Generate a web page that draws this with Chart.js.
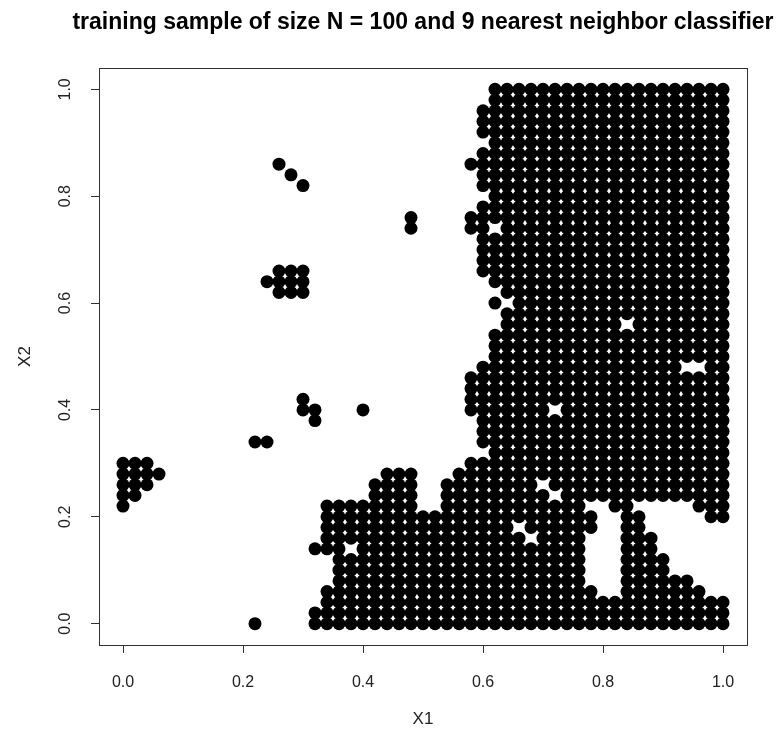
<!DOCTYPE html>
<html>
<head>
<meta charset="utf-8">
<script src="https://cdn.jsdelivr.net/npm/chart.js@4"></script>
<style>
  html, body { margin: 0; padding: 0; background: #fff; }
</style>
</head>
<body>
<canvas id="knn" width="784" height="740"></canvas>
<script>
const plotTitle = "training sample of size N = 100 and 9 nearest neighbor classifier";
const xAxisLabel = "X1";
const yAxisLabel = "X2";
const tickValues = [0, 0.2, 0.4, 0.6, 0.8, 1.0];
const tickLabels = ["0.0", "0.2", "0.4", "0.6", "0.8", "1.0"];
const gridStep = 0.02;

// grid cells predicted as class 1, one entry per grid row,
// first entry is X2 = 1.00, last is X2 = 0.00.
// each pair is [first, last] column index (X1 = index * 0.02)
const classOneRows = [
  [[31, 50]],                                   // 1.00
  [[31, 50]],
  [[30, 50]],
  [[30, 50]],
  [[30, 50]],
  [[31, 50]],                                   // 0.90
  [[30, 50]],
  [[13, 13], [29, 50]],
  [[14, 14], [30, 50]],
  [[15, 15], [30, 50]],
  [[31, 50]],                                   // 0.80
  [[30, 50]],
  [[24, 24], [29, 50]],
  [[24, 24], [29, 30], [32, 50]],
  [[30, 50]],
  [[30, 50]],                                   // 0.70
  [[30, 50]],
  [[13, 15], [30, 50]],
  [[12, 15], [31, 50]],
  [[13, 15], [32, 50]],
  [[31, 31], [33, 50]],                         // 0.60
  [[32, 50]],
  [[32, 41], [43, 50]],
  [[31, 50]],
  [[31, 50]],
  [[31, 50]],                                   // 0.50
  [[30, 46], [49, 50]],
  [[29, 50]],
  [[29, 50]],
  [[15, 15], [29, 50]],
  [[15, 16], [20, 20], [29, 35], [37, 50]],     // 0.40
  [[16, 16], [30, 50]],
  [[30, 50]],
  [[11, 12], [30, 50]],
  [[31, 50]],
  [[0, 2], [29, 50]],                           // 0.30
  [[0, 3], [22, 24], [28, 50]],
  [[0, 2], [21, 24], [27, 34], [36, 50]],
  [[0, 1], [21, 24], [27, 35], [37, 50]],
  [[0, 0], [17, 24], [27, 38], [41, 42], [48, 50]],
  [[17, 39], [42, 43], [49, 50]],               // 0.20
  [[17, 32], [34, 39], [42, 43]],
  [[17, 33], [35, 38], [42, 44]],
  [[16, 18], [20, 38], [42, 44]],
  [[18, 38], [42, 45]],
  [[18, 38], [42, 45]],                         // 0.10
  [[18, 38], [42, 47]],
  [[17, 39], [42, 48]],
  [[17, 50]],
  [[16, 50]],
  [[11, 11], [16, 50]]                          // 0.00
];

const points = [];
classOneRows.forEach((runs, k) => {
  const row = classOneRows.length - 1 - k;
  runs.forEach(([first, last]) => {
    for (let col = first; col <= last; col++) {
      points.push({ x: +(col * gridStep).toFixed(2), y: +(row * gridStep).toFixed(2) });
    }
  });
});

const FONT = '"Liberation Sans", Arial, Helvetica, sans-serif';
const INK = "#000";

// box around the plot region, title and the rotated y tick labels (R style)
const rFrame = {
  id: "rFrame",
  afterDraw(chart) {
    const { ctx, chartArea: a, scales } = chart;
    ctx.save();
    ctx.strokeStyle = "#333";
    ctx.lineWidth = 1;
    ctx.strokeRect(Math.round(a.left) + 0.5, Math.round(a.top) + 0.5,
                   Math.round(a.right - a.left), Math.round(a.bottom - a.top));

    ctx.fillStyle = INK;
    ctx.font = "bold 23px " + FONT;
    ctx.textAlign = "center";
    ctx.textBaseline = "middle";
    ctx.fillText(plotTitle, (a.left + a.right) / 2, 23);

    ctx.font = "16px " + FONT;
    ctx.fillStyle = "#222";
    tickValues.forEach((v, i) => {
      const py = scales.y.getPixelForValue(v);
      ctx.save();
      ctx.translate(66, py);
      ctx.rotate(-Math.PI / 2);
      ctx.fillText(tickLabels[i], 0, 0);
      ctx.restore();
    });
    ctx.restore();
  }
};

new Chart(document.getElementById("knn"), {
  type: "scatter",
  data: {
    datasets: [{
      data: points,
      pointRadius: 6.5,
      pointHoverRadius: 6.5,
      pointBorderWidth: 0,
      backgroundColor: INK,
      borderColor: INK
    }]
  },
  options: {
    responsive: false,
    animation: false,
    events: [],
    layout: { padding: { top: 68, right: 37, left: 0, bottom: 0 } },
    plugins: {
      legend: { display: false },
      tooltip: { enabled: false },
      title: { display: false }
    },
    scales: {
      x: {
        type: "linear",
        min: -0.04,
        max: 1.04,
        afterBuildTicks: s => { s.ticks = tickValues.map(v => ({ value: v })); },
        afterFit: s => { s.height = 95; },
        border: { display: false },
        grid: { drawOnChartArea: false, drawTicks: true, tickLength: 8, color: "#333" },
        ticks: {
          autoSkip: false,
          maxRotation: 0,
          padding: 20,
          color: "#222",
          font: { family: FONT, size: 16 },
          callback: (v, i) => tickLabels[i]
        },
        title: {
          display: true,
          text: xAxisLabel,
          color: "#222",
          font: { family: FONT, size: 17 },
          padding: { bottom: 10 }
        }
      },
      y: {
        type: "linear",
        min: -0.04,
        max: 1.04,
        afterBuildTicks: s => { s.ticks = tickValues.map(v => ({ value: v })); },
        afterFit: s => { s.width = 99; },
        border: { display: false },
        grid: { drawOnChartArea: false, drawTicks: true, tickLength: 8, color: "#333" },
        ticks: { display: false },
        title: {
          display: true,
          text: yAxisLabel,
          color: "#222",
          font: { family: FONT, size: 17 },
          padding: { top: 15 }
        }
      }
    }
  },
  plugins: [rFrame]
});
</script>
</body>
</html>
